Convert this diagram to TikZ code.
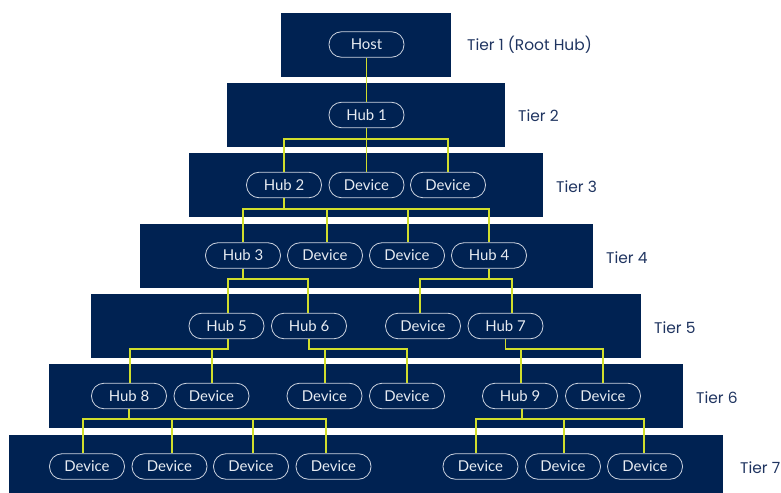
\documentclass[tikz,border=0pt]{standalone}
\usepackage{fontspec}
\setmainfont{Lato}
\newfontfamily\popfont{Poppins}
\definecolor{navy}{RGB}{0,34,82}
\definecolor{lime}{RGB}{208,222,44}
\definecolor{tiertext}{RGB}{31,52,96}
\definecolor{pilltext}{RGB}{232,236,242}
\definecolor{pillline}{RGB}{205,212,224}
\tikzset{
  band/.style={fill=navy, draw=none},
  pill/.style={draw=pillline, line width=0.8bp, fill=navy, rounded corners=12.5bp,
    minimum width=75bp, minimum height=25.5bp, inner sep=0pt, text=pilltext,
    font=\fontsize{15}{15}\selectfont},
  tierlabel/.style={anchor=west, text=tiertext, inner sep=0pt,
    font=\popfont\fontsize{15.5}{16}\selectfont},
  link/.style={draw=lime, line width=1.9bp}
}
\begin{document}
\begin{tikzpicture}[x=1bp,y=-1bp]
\useasboundingbox (0,0) rectangle (781,493);
% bands
\fill[band] (281,13) rectangle (451,77);
\fill[band] (227,83) rectangle (505,147);
\fill[band] (189,153) rectangle (543,217);
\fill[band] (140,224) rectangle (593,288);
\fill[band] (91,294) rectangle (641,358);
\fill[band] (49,364) rectangle (683,428);
\fill[band] (9,435) rectangle (723,493);
% tier labels
\node[tierlabel] (l1) at (467,44.5) {Tier 1 (Root Hub)};
\node[tierlabel] (l2) at (518,115.5) {Tier 2};
\node[tierlabel] (l3) at (556,187) {Tier 3};
\node[tierlabel] (l4) at (606,258) {Tier 4};
\node[tierlabel] (l5) at (654,328) {Tier 5};
\node[tierlabel] (l6) at (696,398) {Tier 6};
\node[tierlabel] (l7) at (740,468) {Tier 7};
% nodes
\node[pill] (host) at (366.5,44.5) {Host};
\node[pill] (hub1) at (366.5,115) {Hub 1};
\node[pill] (hub2) at (284,185) {Hub 2};
\node[pill] (d31) at (366.5,185) {Device};
\node[pill] (d32) at (448,185) {Device};
\node[pill] (hub3) at (243,255.5) {Hub 3};
\node[pill] (d41) at (325,255.5) {Device};
\node[pill] (d42) at (407,255.5) {Device};
\node[pill] (hub4) at (489,255.5) {Hub 4};
\node[pill] (hub5) at (226.5,326) {Hub 5};
\node[pill] (hub6) at (309,326) {Hub 6};
\node[pill] (d51) at (423,326) {Device};
\node[pill] (hub7) at (505.5,326) {Hub 7};
\node[pill] (hub8) at (129,396) {Hub 8};
\node[pill] (d61) at (211.5,396) {Device};
\node[pill] (d62) at (324.5,396) {Device};
\node[pill] (d63) at (407,396) {Device};
\node[pill] (hub9) at (520,396) {Hub 9};
\node[pill] (d64) at (603,396) {Device};
\node[pill] (d71) at (87,466.5) {Device};
\node[pill] (d72) at (169.5,466.5) {Device};
\node[pill] (d73) at (251,466.5) {Device};
\node[pill] (d74) at (333.5,466.5) {Device};
\node[pill] (d75) at (480.5,466.5) {Device};
\node[pill] (d76) at (563,466.5) {Device};
\node[pill] (d77) at (645,466.5) {Device};
% connectors
\draw[link] (host) -- (hub1);
\draw[link] (hub1.south) -- ++(0,10.5) -| (hub2.north);
\draw[link] (hub1.south) -- (d31.north);
\draw[link] (hub1.south) -- ++(0,10.5) -| (d32.north);
\draw[link] (hub2.south) -- ++(0,10.5) -| (hub3.north);
\draw[link] (hub2.south) -- ++(0,10.5) -| ([xshift=2bp]d41.north);
\draw[link] (hub2.south) -- ++(0,10.5) -| ([xshift=1bp]d42.north);
\draw[link] (hub2.south) -- ++(0,10.5) -| (hub4.north);
\draw[link] (hub3.south) -- ++(0,10.5) -| ([xshift=1.5bp]hub5.north);
\draw[link] (hub3.south) -- ++(0,10.5) -| ([xshift=-1bp]hub6.north);
\draw[link] (hub4.south) -- ++(0,10.5) -| ([xshift=-3bp]d51.north);
\draw[link] (hub4.south) -- ++(0,10.5) -| ([xshift=6.5bp]hub7.north);
\draw[link] ([xshift=1.5bp]hub5.south) -- ++(0,9.5) -| ([xshift=1bp]hub8.north);
\draw[link] ([xshift=1.5bp]hub5.south) -- ++(0,9.5) -| ([xshift=0.5bp]d61.north);
\draw[link] (hub6.south) -- ++(0,9.5) -| ([xshift=0.5bp]d62.north);
\draw[link] (hub6.south) -- ++(0,9.5) -| (d63.north);
\draw[link] (hub7.south) -- ++(0,9.5) -| ([xshift=1bp]hub9.north);
\draw[link] (hub7.south) -- ++(0,9.5) -| (d64.north);
\draw[link] (hub8.south) -- ++(0,9.5) -| ([xshift=-4bp]d71.north);
\draw[link] (hub8.south) -- ++(0,9.5) -| ([xshift=2.5bp]d72.north);
\draw[link] (hub8.south) -- ++(0,9.5) -| ([xshift=2bp]d73.north);
\draw[link] (hub8.south) -- ++(0,9.5) -| ([xshift=-7.5bp]d74.north);
\draw[link] ([xshift=2bp]hub9.south) -- ++(0,9.5) -| ([xshift=-4.5bp]d75.north);
\draw[link] ([xshift=2bp]hub9.south) -- ++(0,9.5) -| ([xshift=1bp]d76.north);
\draw[link] ([xshift=2bp]hub9.south) -- ++(0,9.5) -| ([xshift=-1bp]d77.north);
\end{tikzpicture}
\end{document}
